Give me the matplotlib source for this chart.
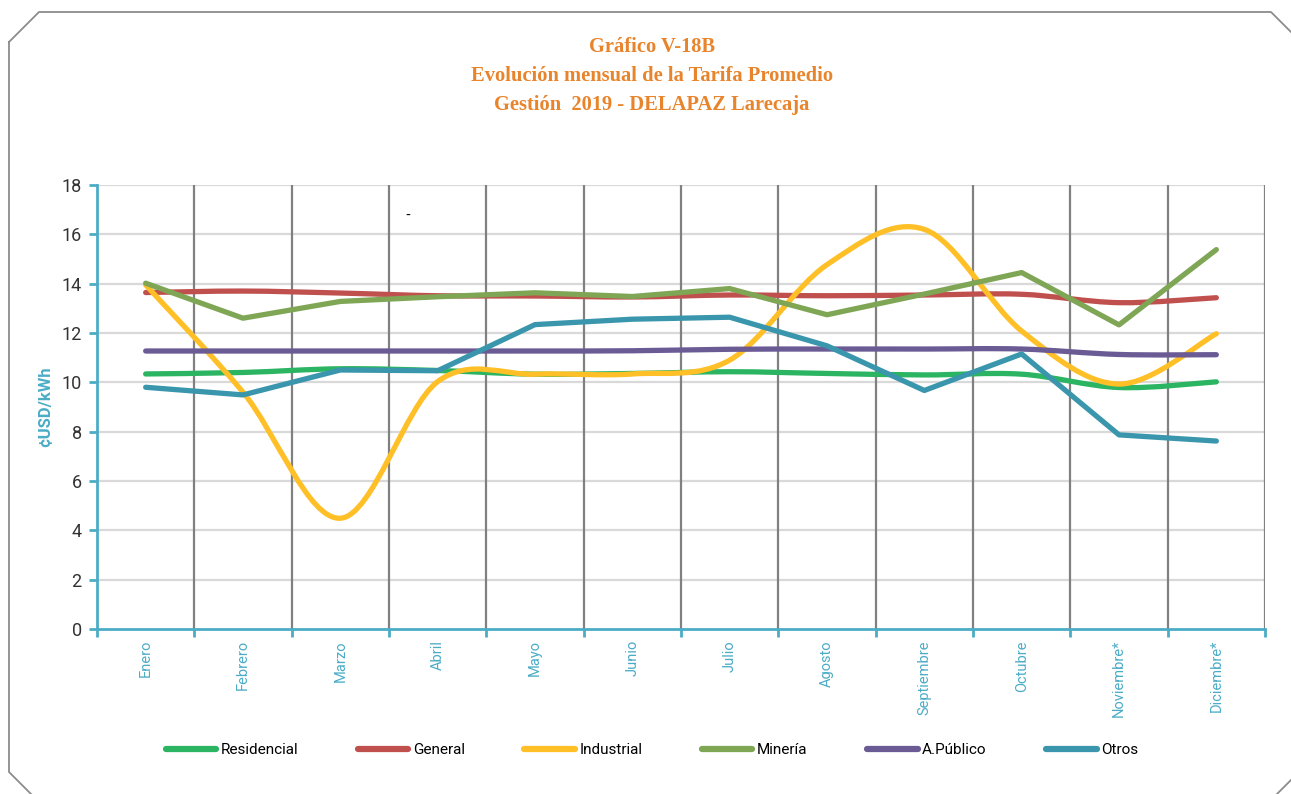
import matplotlib
matplotlib.use('Agg')
import matplotlib.pyplot as plt
from matplotlib.path import Path
from matplotlib.patches import PathPatch
from matplotlib.lines import Line2D
import numpy as np

# %%
meses = ['Enero', 'Febrero', 'Marzo', 'Abril', 'Mayo', 'Junio', 'Julio',
         'Agosto', 'Septiembre', 'Octubre', 'Noviembre*', 'Diciembre*']

residencial = [10.34, 10.40, 10.55, 10.48, 10.33, 10.36, 10.43, 10.36, 10.30, 10.33, 9.79, 10.02]
general = [13.64, 13.70, 13.62, 13.51, 13.50, 13.46, 13.54, 13.51, 13.54, 13.57, 13.23, 13.43]
industrial = [13.95, 9.60, 4.49, 10.03, 10.33, 10.34, 10.90, 14.77, 16.20, 12.08, 9.93, 11.97]
mineria = [14.02, 12.60, 13.28, 13.47, 13.63, 13.48, 13.80, 12.74, 13.58, 14.45, 12.33, 15.38]
a_publico = [11.27, 11.27, 11.27, 11.27, 11.27, 11.28, 11.34, 11.35, 11.35, 11.35, 11.13, 11.12]
otros = [9.80, 9.49, 10.50, 10.47, 12.34, 12.56, 12.64, 11.48, 9.67, 11.15, 7.87, 7.62]

# name, values, colour, smoothed
series = [
    ('Residencial', residencial, '#2BB461', True),
    ('General', general, '#C0504D', True),
    ('Industrial', industrial, '#FFBF26', True),
    ('Minería', mineria, '#7EA655', False),
    ('A.Público', a_publico, '#6B5B95', True),
    ('Otros', otros, '#3A96AC', False),
]

narrow = ['Roboto', 'DejaVu Sans']
teal = '#4BACC6'
orange = '#E8842C'


def smooth_path(xs, ys):
    # bezier segments through the data points (excel style smoothing)
    pts = np.column_stack([xs, ys]).astype(float)
    n = len(pts)
    verts = [pts[0]]
    codes = [Path.MOVETO]
    for i in range(n - 1):
        p0 = pts[max(i - 1, 0)]
        p1 = pts[i]
        p2 = pts[i + 1]
        p3 = pts[min(i + 2, n - 1)]
        c1 = p1 + (p2 - p0) / 6.0
        c2 = p2 - (p3 - p1) / 6.0
        verts += [c1, c2, p2]
        codes += [Path.CURVE4] * 3
    return Path(verts, codes)


# %%
fig = plt.figure(figsize=(12.91, 7.94), dpi=100)

# chamfered frame
W, H = 1291, 794
frame = [(9, 42), (39, 12), (1271, 12), (1293, 34), (1293, 778), (1275, 796),
         (33, 796), (9, 772), (9, 42)]
fx = [p[0] / W for p in frame]
fy = [1 - p[1] / H for p in frame]
fig.add_artist(Line2D(fx, fy, color='#8C8C8C', lw=1.3, transform=fig.transFigure))

ax = fig.add_axes([97 / W, 1 - 629 / H, (1265 - 97) / W, (629 - 185) / H])

x = np.arange(len(meses))
for name, vals, color, smooth in series:
    if smooth:
        patch = PathPatch(smooth_path(x, vals), fill=False, edgecolor=color, lw=3.8,
                          capstyle='round', joinstyle='round', zorder=3)
        ax.add_patch(patch)
    else:
        ax.plot(x, vals, color=color, lw=3.8, solid_capstyle='round',
                solid_joinstyle='round', zorder=3)

ax.set_xlim(-0.5, len(meses) - 0.5)
ax.set_ylim(0, 18)
ax.set_yticks(range(0, 19, 2))
for yv in range(2, 19, 2):
    ax.axhline(yv, color='#D9D9D9', lw=1.6, zorder=1)
for xv in np.arange(0.5, len(meses), 1.0):
    ax.axvline(xv, color='#808080', lw=1.6, zorder=1)

for s in ['top', 'right']:
    ax.spines[s].set_visible(False)
ax.spines['left'].set_color(teal)
ax.spines['bottom'].set_color(teal)
ax.spines['left'].set_linewidth(2)
ax.spines['bottom'].set_linewidth(2)

ax.set_xticks(x)
ax.set_xticklabels(meses, rotation=90, color=teal, fontsize=10.5, family=narrow, va='top')
ax.tick_params(axis='x', length=0, pad=8)
ax.set_xticks(np.arange(-0.5, len(meses), 1.0), minor=True)
ax.tick_params(axis='x', which='minor', length=6, width=2, color=teal)
ax.tick_params(axis='y', length=6, width=2, color=teal, labelsize=13,
               labelcolor='#333333', pad=5)
for lbl in ax.get_yticklabels():
    lbl.set_family(narrow)

ax.set_ylabel('¢USD/kWh', color=teal, fontsize=12, fontweight='bold', family=narrow, labelpad=6)

fig.text(405 / W, 1 - 216 / H, '-', fontsize=10, color='black', va='center')

fig.text(0.505, 1 - 47 / H, 'Gráfico V-18B', ha='center', va='center', color=orange,
         fontsize=14.8, fontweight='bold', family='Liberation Serif')
fig.text(0.505, 1 - 76 / H, 'Evolución mensual de la Tarifa Promedio', ha='center',
         va='center', color=orange, fontsize=14.8, fontweight='bold', family='Liberation Serif')
fig.text(0.505, 1 - 105 / H, 'Gestión  2019 - DELAPAZ Larecaja', ha='center', va='center',
         color=orange, fontsize=14.8, fontweight='bold', family='Liberation Serif')

handles = [Line2D([], [], color=c, lw=4.5, solid_capstyle='round') for _, _, c, _ in series]
labels = [n for n, _, _, _ in series]
fig.legend(handles, labels, loc='center', bbox_to_anchor=(652 / W, 1 - 750 / H), ncol=6,
           frameon=False, handlelength=3.3, handletextpad=0.3, columnspacing=3.9,
           prop={'family': narrow, 'size': 11})

plt.savefig('out.png', dpi=100)
